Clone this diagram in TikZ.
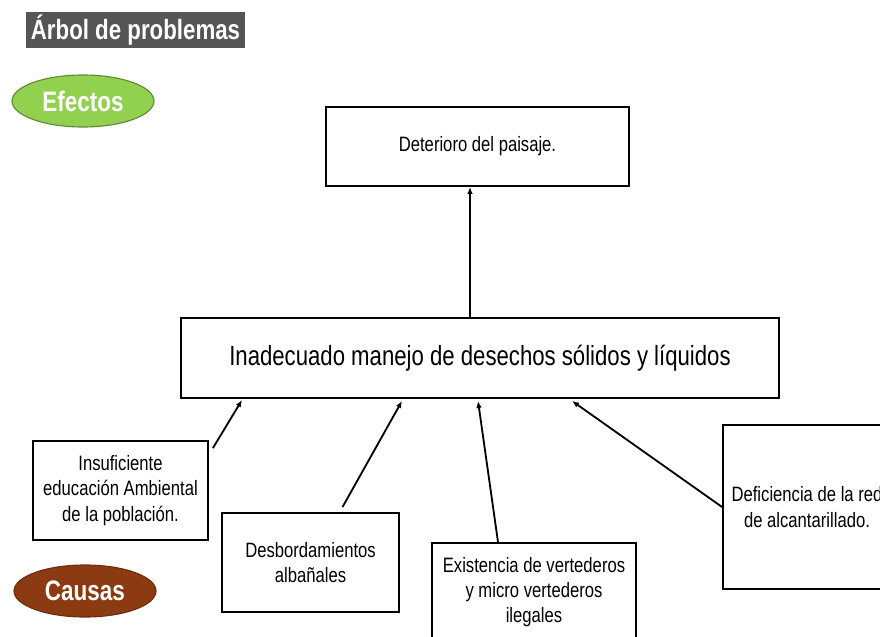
\documentclass[tikz,border=0pt]{standalone}
\usepackage{fontspec}
\setmainfont{Liberation Sans}[FakeStretch=0.8]
\usetikzlibrary{calc,arrows.meta,shapes.geometric}
\definecolor{grisTitulo}{RGB}{85,85,85}
\definecolor{verdeEfectos}{RGB}{146,208,80}
\definecolor{bordeEfectos}{RGB}{95,140,50}
\definecolor{marronCausas}{RGB}{140,58,18}
\definecolor{bordeCausas}{RGB}{110,45,15}
\tikzset{
caja/.style={draw=black,line width=1.3pt,fill=white,align=center,inner sep=0pt,font=\fontsize{14.8}{18}\selectfont},
flecha/.style={-{Latex[length=5pt,width=4pt]},line width=1.3pt},
globo/.style={ellipse,line width=0.8pt,minimum width=3.55cm,minimum height=1.3cm,text=white,font=\fontsize{20}{22}\selectfont\bfseries}
}
\begin{document}
\begin{tikzpicture}[x=0.025cm,y=-0.025cm]
\useasboundingbox (0,0) rectangle (880,637);
\clip (0,0) rectangle (880,637);

\node[fill=grisTitulo,text=white,minimum width=5.475cm,minimum height=0.9cm,inner sep=0pt,font=\fontsize{19.8}{22}\selectfont\bfseries] (titulo) at (135.5,30) {Árbol de problemas};

\node[globo,fill=verdeEfectos,draw=bordeEfectos] (efectos) at (83,101) {Efectos};
\node[globo,fill=marronCausas,draw=bordeCausas] (causas) at (85,591) {Causas};

\node[caja,minimum width=7.575cm,minimum height=1.975cm] (efecto) at (477.5,146.5) {Deterioro del paisaje.};
\node[caja,minimum width=14.95cm,minimum height=2cm,font=\fontsize{19.7}{22}\selectfont] (problema) at (480,358) {Inadecuado manejo de desechos sólidos y líquidos};

\node[caja,minimum width=4.375cm,minimum height=2.475cm] (causa1) at (120.5,490.5) {Insuficiente\\educación Ambiental\\de la población.};
\node[caja,minimum width=4.425cm,minimum height=2.475cm] (causa2) at (310.5,562.5) {Desbordamientos\\albañales};
\node[caja,minimum width=5.1cm,minimum height=2.45cm] (causa3) at (534,592) {Existencia de vertederos\\y micro vertederos\\ilegales};
\node[caja,minimum width=4.2cm,minimum height=4.1cm] (causa4) at (807,507) {Deficiencia de la red\\de alcantarillado.};

\draw[flecha] ($(problema.north)+(-10,0)$) -- ($(efecto.south)+(-7.5,0)$);

\draw[flecha] ($(causa1.north east)+(4,8)$) -- ($(problema.south west)+(62,1)$);
\draw[flecha] ($(causa2.north)+(32,-5)$) -- ($(problema.south west)+(222,2)$);
\draw[flecha] ($(causa3.north)+(-36,0)$) -- ($(problema.south west)+(298,2)$);
\draw[flecha] (causa4.west) -- ($(problema.south west)+(392,2)$);
\end{tikzpicture}
\end{document}
